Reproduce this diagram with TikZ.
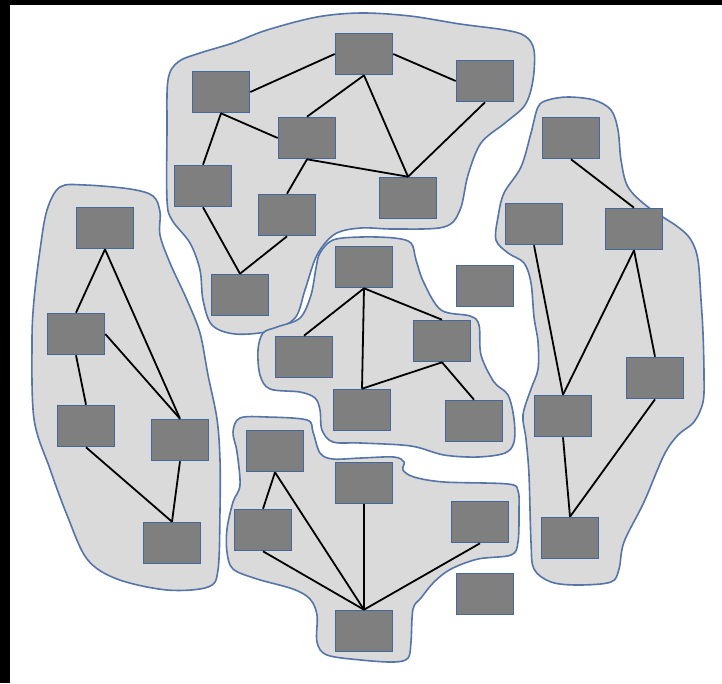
\documentclass[tikz,border=0pt]{standalone}
\begin{document}
\begin{tikzpicture}[x=1pt,y=-1pt,
  box/.style={draw=boxline,fill=boxfill,line width=1.6pt,minimum width=57pt,minimum height=41pt,inner sep=0pt},
  blob/.style={draw=blobline,fill=blobfill,line width=1.6pt},
  link/.style={black,line width=1.8pt}]
\definecolor{boxfill}{HTML}{7F7F7F}
\definecolor{boxline}{HTML}{44679C}
\definecolor{blobfill}{HTML}{DADADA}
\definecolor{blobline}{HTML}{5575A8}
\useasboundingbox (0,0) rectangle (722,683);
\fill[black] (0,0) rectangle (722,683);
\fill[white] (10,5) rectangle (722,683);
% clusters
\draw[blob] plot[smooth cycle,tension=0.55] coordinates {(361,13) (317,17) (267,30) (233,43) (200,53) (178,62) (168,80) (167,130) (167,200) (172,220) (190,243) (200,270) (203,300) (212,325) (235,334) (270,331) (295,318) (305,290) (317,255) (335,234) (361,228) (394,229) (444,227) (460,210) (468,175) (481,143) (505,123) (525,105) (533,80) (534,50) (525,36) (505,30) (460,24) (410,16)};
\draw[blob] plot[smooth cycle,tension=0.55] coordinates {(60,187) (85,185) (130,189) (153,196) (160,212) (160,235) (170,263) (187,300) (200,333) (208,375) (217,419) (220,460) (220,510) (218,570) (208,587) (167,590) (117,579) (87,559) (67,515) (50,469) (34,419) (32,342) (34,300) (40,250) (47,210)};
\draw[blob] plot[smooth cycle,tension=0.55] coordinates {(320,253) (333,240) (361,237) (394,238) (411,243) (416,260) (424,283) (441,310) (470,316) (479,325) (481,355) (494,382) (508,395) (514,419) (514,442) (505,453) (478,457) (444,455) (411,446) (361,443) (333,442) (322,430) (320,410) (315,398) (300,392) (270,389) (260,375) (258,350) (263,333) (277,327) (300,318) (311,295) (316,268)};
\draw[blob] plot[smooth cycle,tension=0.55] coordinates {(240,418) (267,417) (307,420) (313,432) (320,453) (333,459) (361,458) (394,457) (404,462) (403,470) (414,477) (444,482) (508,484) (518,491) (519,509) (518,542) (511,555) (478,559) (451,569) (434,582) (421,598) (413,609) (411,642) (408,658) (394,662) (361,660) (327,655) (317,642) (317,615) (310,599) (293,589) (257,579) (233,569) (227,552) (227,529) (233,502) (240,485) (237,452) (233,432)};
\draw[blob] plot[smooth cycle,tension=0.55] coordinates {(568,97) (548,100) (538,107) (531,133) (521,167) (504,193) (498,217) (496,240) (508,253) (524,263) (531,283) (534,317) (538,342) (538,369) (531,389) (523,415) (526,439) (529,475) (531,542) (534,569) (551,582) (578,585) (611,582) (619,569) (624,542) (644,502) (664,455) (678,435) (694,422) (703,402) (704,375) (703,333) (701,300) (698,260) (691,240) (678,227) (648,207) (628,187) (621,160) (618,130) (611,110) (594,100)};
% boxes
\node[box] (A1) at (221,92) {};
\node[box] (A2) at (364,54) {};
\node[box] (A3) at (485,81) {};
\node[box] (A4) at (307,138) {};
\node[box] (A5) at (203,186) {};
\node[box] (A6) at (287,215) {};
\node[box] (A7) at (408,198) {};
\node[box] (A8) at (240,295) {};
\node[box] (B1) at (105,228) {};
\node[box] (B2) at (76,334) {};
\node[box] (B3) at (86,426) {};
\node[box] (B4) at (180,440) {};
\node[box] (B5) at (172,543) {};
\node[box] (C1) at (364,267) {};
\node[box] (C2) at (485,286) {};
\node[box] (C3) at (442,341) {};
\node[box] (C4) at (304,357) {};
\node[box] (C5) at (362,410) {};
\node[box] (C6) at (474,421) {};
\node[box] (D1) at (275,451) {};
\node[box] (D2) at (364,483) {};
\node[box] (D3) at (263,530) {};
\node[box] (D4) at (364,631) {};
\node[box] (D5) at (480,522) {};
\node[box] (F)  at (485,594) {};
\node[box] (E1) at (571,138) {};
\node[box] (E2) at (534,224) {};
\node[box] (E3) at (634,229) {};
\node[box] (E4) at (563,416) {};
\node[box] (E5) at (655,378) {};
\node[box] (E6) at (570,538) {};
% links
\draw[link] (A1.east) -- (A2.west);
\draw[link] (A2.east) -- (A3.west);
\draw[link] (A2.south) -- (A4.north);
\draw[link] (A2.south) -- (A7.north);
\draw[link] (A3.south) -- (A7.north);
\draw[link] (A1.south) -- (A4.west);
\draw[link] (A1.south) -- (A5.north);
\draw[link] (A4.south) -- (A7.north);
\draw[link] (A4.south) -- (A6.north);
\draw[link] (A5.south) -- (A8.north);
\draw[link] (A6.south) -- (A8.north);
\draw[link] (B1.south) -- (B2.north);
\draw[link] (B1.south) -- (B4.north);
\draw[link] (B2.east) -- (B4.north);
\draw[link] (B2.south) -- (B3.north);
\draw[link] (B3.south) -- (B5.north);
\draw[link] (B4.south) -- (B5.north);
\draw[link] (C1.south) -- (C4.north);
\draw[link] (C1.south) -- (C3.north);
\draw[link] (C1.south) -- (C5.north);
\draw[link] (C5.north) -- (C3.south);
\draw[link] (C3.south) -- (C6.north);
\draw[link] (E1.south) -- (E3.north);
\draw[link] (E2.south) -- (E4.north);
\draw[link] (E3.south) -- (E4.north);
\draw[link] (E3.south) -- (E5.north);
\draw[link] (E4.south) -- (E6.north);
\draw[link] (E5.south) -- (E6.north);
\draw[link] (D1.south) -- (D3.north);
\draw[link] (D1.south) -- (D4.north);
\draw[link] (D3.south) -- (D4.north);
\draw[link] (D2.south) -- (D4.north);
\draw[link] (D5.south) -- (D4.north);
\end{tikzpicture}
\end{document}
